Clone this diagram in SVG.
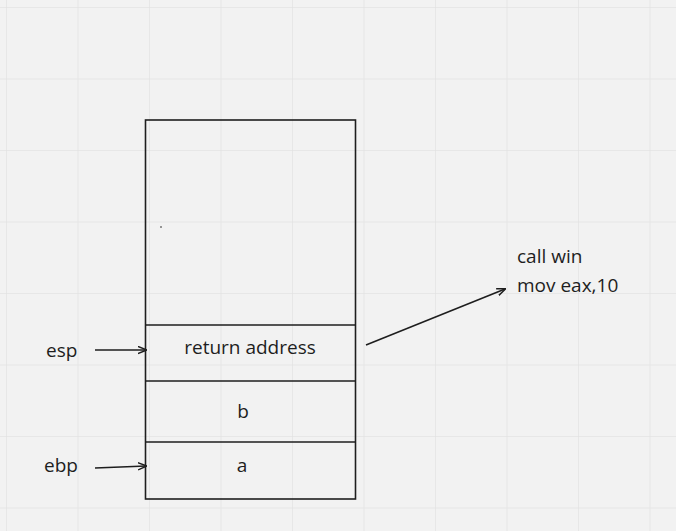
<svg xmlns="http://www.w3.org/2000/svg" width="676" height="531" viewBox="0 0 676 531">
<style>
.t{font-family:"Open Sans","Liberation Sans",sans-serif;font-size:19px;fill:#1e1e1e}
.s{fill:none;stroke:#1e1e1e;stroke-width:1.6}
</style>
<defs>
<pattern id="g" x="6" y="7" width="71.5" height="71.5" patternUnits="userSpaceOnUse">
<path d="M0 0V71.5M0 0H71.5" stroke="#e3e3e3" stroke-width="1.5" fill="none"/>
</pattern>
<marker id="a" viewBox="0 0 10 10" refX="9" refY="5" markerWidth="9" markerHeight="9" orient="auto" markerUnits="userSpaceOnUse"><path d="M0 1L10 5L0 9" fill="none" stroke="#1e1e1e" stroke-width="1.6"/></marker>
</defs>
<rect width="676" height="531" fill="#f2f2f2"/>
<rect width="676" height="531" fill="url(#g)"/>
<g id="stack">
<rect class="s" x="145.5" y="120" width="210" height="379"/>
<circle cx="161" cy="227" r="0.8" fill="#1e1e1e"/>
</g>
<g id="ret"><path class="s" d="M145.5 325H355.5"/><text class="t" x="250" y="354" text-anchor="middle">return address</text></g>
<g id="b"><path class="s" d="M145.5 381H355.5"/><text class="t" x="243" y="418" text-anchor="middle">b</text></g>
<g id="aa"><path class="s" d="M145.5 442H355.5"/><text class="t" x="242" y="472" text-anchor="middle">a</text></g>
<g id="esp"><text class="t" x="46" y="357">esp</text></g>
<g id="ebp"><text class="t" x="44" y="472">ebp</text></g>
<g id="code"><text class="t" x="517" y="263">call win</text><text class="t" x="517" y="292">mov eax,10</text></g>
<g id="connectors" class="s">
<path d="M95 350H146" marker-end="url(#a)"/>
<path d="M95 468L146 466" marker-end="url(#a)"/>
<path d="M366 345L505 289" marker-end="url(#a)"/>
</g>
</svg>
